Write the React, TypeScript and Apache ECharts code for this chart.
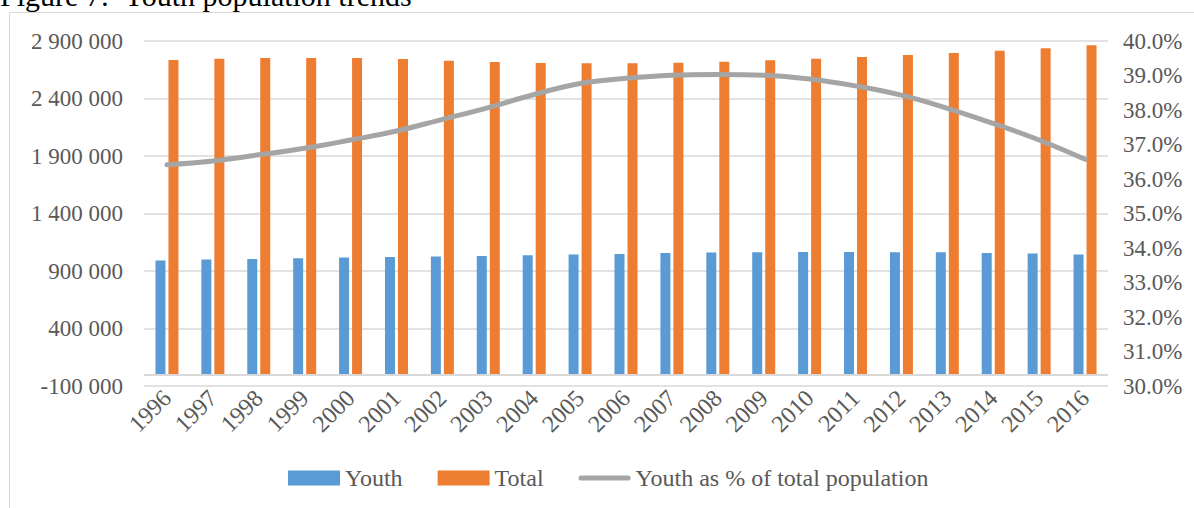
import React, { useEffect, useRef } from "react";
import * as echarts from "echarts";

// Population by year
const years = [
  "1996", "1997", "1998", "1999", "2000", "2001", "2002", "2003", "2004", "2005", "2006",
  "2007", "2008", "2009", "2010", "2011", "2012", "2013", "2014", "2015", "2016",
];

const youth = [
  991000, 999000, 1005000, 1011000, 1017000, 1022000, 1026000, 1031000, 1037000, 1043000, 1048000,
  1057000, 1060000, 1063000, 1066000, 1066000, 1063000, 1063000, 1057000, 1052000, 1043000,
];

const total = [
  2735000, 2746000, 2752000, 2752000, 2752000, 2744000, 2729000, 2717000, 2709000, 2706000, 2706000,
  2711000, 2720000, 2732000, 2746000, 2761000, 2778000, 2796000, 2816000, 2837000, 2863000,
];

// Youth share of the total population, in percent
const youthShare = [
  36.41, 36.52, 36.7, 36.89, 37.13, 37.39, 37.73, 38.07, 38.45, 38.77, 38.92,
  39.01, 39.03, 39.01, 38.9, 38.7, 38.43, 38.05, 37.61, 37.13, 36.57,
];

// Left axis tick values
const countTicks = [-100000, 400000, 900000, 1400000, 1900000, 2400000, 2900000];

const FONT = "'Liberation Serif', 'Times New Roman', serif";
const TEXT = "#595959";
const GRID = "#D9D9D9";
const LINE = "#A5A5A5";

const spaced = (v: number) => {
  const s = Math.abs(v).toString().replace(/\B(?=(\d{3})+(?!\d))/g, " ");
  return (v < 0 ? "-" : "") + s;
};

export default function App() {
  const ref = useRef<HTMLDivElement>(null);

  useEffect(() => {
    if (!ref.current) return;
    const chart = echarts.init(ref.current, undefined, { renderer: "svg" });
    chart.setOption({
      animation: false,
      backgroundColor: "#ffffff",
      textStyle: { fontFamily: FONT },
      graphic: [
        {
          type: "rect",
          shape: { x: 9.5, y: 12.5, width: 1200, height: 520 },
          style: { fill: "none", stroke: GRID, lineWidth: 1 },
          silent: true,
        },
        {
          type: "text",
          x: 0,
          y: -5,
          style: {
            text: "Figure 7:  Youth population trends",
            font: `30px ${FONT}`,
            fill: "#000000",
            verticalAlign: "middle",
          },
          silent: true,
        },
      ],
      grid: {
        left: 144,
        right: 86,
        top: 41,
        bottom: 122,
        containLabel: false,
        outerBoundsMode: "none",
      },
      legend: {
        left: 283,
        top: 461,
        itemWidth: 52,
        itemHeight: 15,
        itemGap: 35,
        textStyle: { fontFamily: FONT, fontSize: 24, color: TEXT },
        data: [
          { name: "Youth", icon: "rect" },
          { name: "Total", icon: "rect" },
          {
            name: "Youth as % of total population",
            icon: "path://M3,0 L57,0 A3,3 0 0 1 57,6 L3,6 A3,3 0 0 1 3,0 Z",
            itemStyle: { color: LINE },
          },
        ],
      },
      xAxis: {
        type: "category",
        data: years,
        axisLine: { show: false, onZero: false },
        axisTick: { show: false },
        axisLabel: {
          interval: 0,
          rotate: 45,
          margin: 8,
          fontFamily: FONT,
          fontSize: 24,
          color: TEXT,
        },
      },
      yAxis: [
        {
          type: "value",
          min: -100000,
          max: 2900000,
          axisLine: { show: false },
          axisTick: { show: false, customValues: countTicks },
          axisLabel: {
            customValues: countTicks,
            formatter: (v: number) => spaced(v),
            margin: 21,
            fontFamily: FONT,
            fontSize: 23,
            color: TEXT,
          },
          splitLine: { show: true, lineStyle: { color: GRID, width: 1.5 } },
        },
        {
          type: "value",
          position: "right",
          min: 30,
          max: 40,
          interval: 1,
          axisLine: { show: false },
          axisTick: { show: false },
          axisLabel: {
            formatter: (v: number) => v.toFixed(1) + "%",
            margin: 15,
            fontFamily: FONT,
            fontSize: 23,
            color: TEXT,
          },
          splitLine: { show: false },
        },
      ],
      series: [
        {
          name: "Youth",
          type: "bar",
          yAxisIndex: 0,
          data: youth,
          barWidth: 10,
          barGap: "30%",
          itemStyle: { color: "#5B9BD5" },
          markLine: {
            silent: true,
            symbol: "none",
            label: { show: false },
            lineStyle: { color: GRID, width: 2, type: "solid" },
            data: [{ yAxis: 0 }],
          },
        },
        {
          name: "Total",
          type: "bar",
          yAxisIndex: 0,
          data: total,
          barWidth: 10,
          barGap: "30%",
          itemStyle: { color: "#ED7D31" },
        },
        {
          name: "Youth as % of total population",
          type: "line",
          yAxisIndex: 1,
          data: youthShare,
          smooth: 0.4,
          symbol: "none",
          lineStyle: { color: LINE, width: 5, cap: "round" },
          itemStyle: { color: LINE },
          z: 5,
        },
      ],
    });
    return () => chart.dispose();
  }, []);

  return (
    <div
      ref={ref}
      style={{ position: "absolute", left: 0, top: 0, width: 1194, height: 508, background: "#fff" }}
    />
  );
}
